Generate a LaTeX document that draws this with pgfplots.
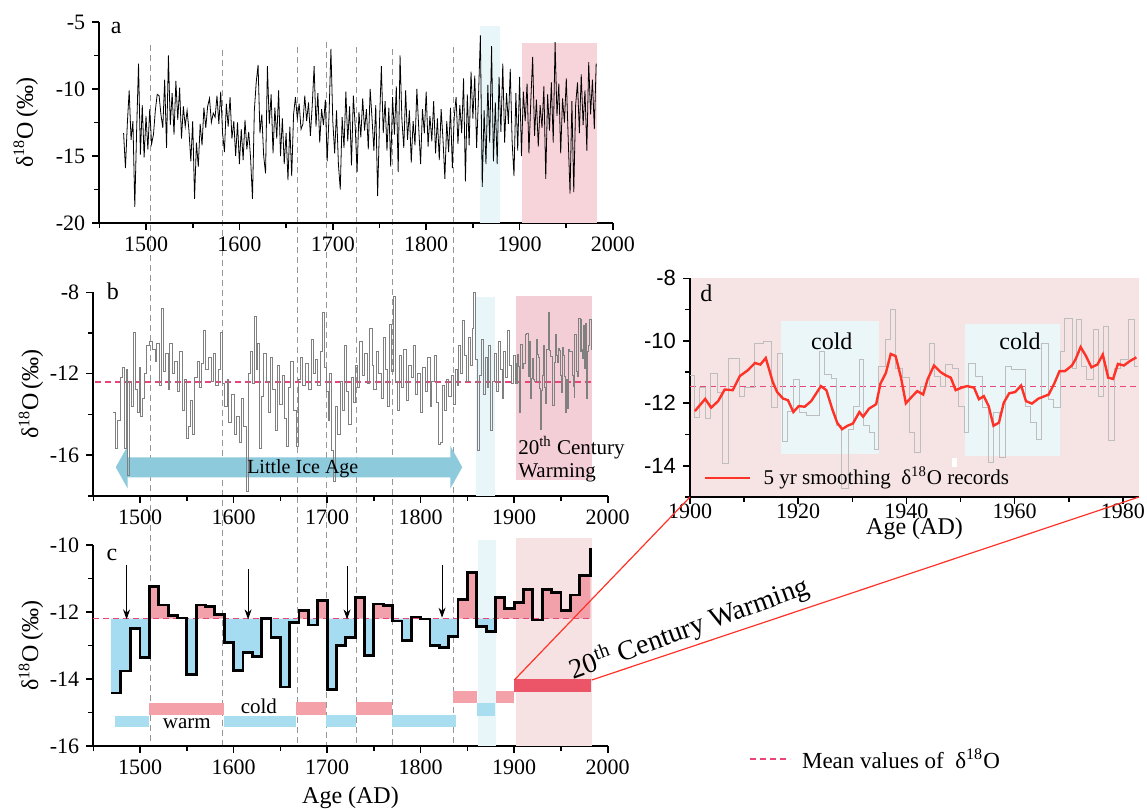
\documentclass[border=0pt]{standalone}
\usepackage{pgfplots}
\pgfplotsset{compat=1.18}
\usepackage{pgfplotstable}
\usepackage{fontspec}
\setmainfont{Liberation Serif}
\newfontfamily\arialf{Liberation Sans}
\usetikzlibrary{arrows.meta}

\definecolor{cfillred}{RGB}{242,160,170}
\definecolor{cfillblue}{RGB}{166,220,242}
\definecolor{barred}{RGB}{244,161,170}
\definecolor{barblue}{RGB}{169,221,240}
\definecolor{bardark}{RGB}{236,84,104}
\definecolor{bandcyan}{RGB}{232,246,249}
\definecolor{bandpinkA}{RGB}{247,211,218}
\definecolor{bandpinkB}{RGB}{244,206,215}
\definecolor{bandpinkC}{RGB}{246,226,226}
\definecolor{dbg}{RGB}{246,228,228}
\definecolor{dcyan}{RGB}{234,246,248}
\definecolor{meanpink}{RGB}{232,70,120}
\definecolor{liaarrow}{RGB}{140,202,220}
\definecolor{redline}{RGB}{255,50,40}
\definecolor{dashgray}{RGB}{150,150,150}

\pgfplotstableread{
yr v
1476 -13.3
1478 -15.9
1480 -12.6
1482 -10.1
1484 -13.8
1486 -12.4
1488 -18.8
1490 -13.0
1492 -8.1
1494 -14.9
1496 -11.2
1498 -15.1
1500 -12.0
1502 -14.5
1504 -11.5
1506 -14.1
1508 -13.4
1510 -11.6
1512 -10.4
1514 -10.5
1516 -11.9
1518 -12.9
1520 -9.3
1522 -14.4
1524 -7.5
1526 -12.7
1528 -10.3
1530 -13.4
1532 -9.4
1534 -12.3
1536 -9.9
1538 -13.7
1540 -11.3
1542 -12.8
1544 -11.6
1546 -13.1
1548 -15.4
1550 -12.4
1552 -18.2
1554 -14.0
1556 -15.8
1558 -12.6
1560 -14.2
1562 -11.4
1564 -12.9
1566 -11.3
1568 -10.7
1570 -12.5
1572 -11.8
1574 -12.1
1576 -10.5
1578 -12.6
1580 -10.2
1582 -13.3
1584 -14.7
1586 -11.1
1588 -12.8
1590 -10.6
1592 -13.7
1594 -12.4
1596 -15.0
1598 -12.5
1600 -15.6
1602 -13.0
1604 -15.3
1606 -12.3
1608 -14.5
1610 -13.2
1612 -15.2
1614 -18.2
1616 -11.6
1618 -9.5
1620 -8.2
1622 -13.3
1624 -11.9
1626 -15.0
1628 -16.3
1630 -8.3
1632 -12.6
1634 -10.4
1636 -14.8
1638 -11.4
1640 -13.7
1642 -10.1
1644 -15.0
1646 -12.2
1648 -15.6
1650 -13.3
1652 -16.8
1654 -12.8
1656 -16.5
1658 -11.9
1660 -10.6
1662 -12.2
1664 -11.1
1666 -13.0
1668 -12.6
1670 -10.5
1672 -12.4
1674 -11.0
1676 -13.5
1678 -11.2
1680 -8.3
1682 -12.8
1684 -10.3
1686 -14.0
1688 -11.5
1690 -12.7
1692 -10.8
1694 -15.4
1696 -11.9
1698 -7.0
1700 -12.4
1702 -14.8
1704 -11.6
1706 -15.6
1708 -17.5
1710 -12.1
1712 -14.4
1714 -10.2
1716 -13.9
1718 -11.3
1720 -15.7
1722 -10.5
1724 -12.8
1726 -16.2
1728 -11.7
1730 -13.6
1732 -10.7
1734 -13.1
1736 -11.5
1738 -14.5
1740 -10.0
1742 -12.2
1744 -14.6
1746 -11.2
1748 -18.0
1750 -12.5
1752 -8.3
1754 -13.3
1756 -10.9
1758 -14.6
1760 -11.4
1762 -15.8
1764 -10.6
1766 -13.4
1768 -9.8
1770 -16.2
1772 -7.5
1774 -12.3
1776 -14.4
1778 -10.1
1780 -13.8
1782 -11.6
1784 -15.5
1786 -12.4
1788 -14.2
1790 -10.0
1792 -12.9
1794 -15.6
1796 -11.5
1798 -13.3
1800 -10.2
1802 -14.3
1804 -12.0
1806 -13.9
1808 -10.9
1810 -14.8
1812 -12.2
1814 -15.3
1816 -11.5
1818 -13.8
1820 -16.7
1822 -12.4
1824 -14.7
1826 -11.4
1828 -15.9
1830 -12.1
1832 -10.6
1834 -14.1
1836 -11.2
1838 -13.3
1840 -9.2
1842 -16.9
1844 -10.4
1846 -14.2
1848 -8.7
1850 -12.2
1852 -9.0
1854 -14.4
1856 -10.5
1858 -6.0
1860 -17.3
1862 -11.6
1864 -15.6
1866 -9.7
1868 -14.0
1870 -6.8
1872 -15.4
1874 -11.0
1876 -15.6
1878 -9.1
1880 -13.2
1882 -8.1
1884 -14.0
1886 -10.3
1888 -12.6
1890 -8.5
1892 -13.9
1894 -16.5
1896 -10.3
1898 -14.6
1900 -9.1
1902 -15.0
1904 -10.2
1906 -12.4
1908 -9.6
1910 -14.8
1912 -10.9
1914 -7.6
1916 -13.5
1918 -10.8
1920 -14.3
1922 -11.2
1924 -12.9
1926 -9.8
1928 -16.7
1930 -10.4
1932 -13.1
1934 -9.5
1936 -14.0
1938 -6.5
1940 -12.0
1942 -9.6
1944 -14.8
1946 -10.7
1948 -12.5
1950 -9.2
1952 -13.6
1954 -17.8
1956 -10.9
1958 -17.7
1960 -11.2
1962 -9.5
1964 -13.3
1966 -8.9
1968 -12.7
1970 -10.1
1972 -14.6
1974 -8.0
1976 -11.9
1978 -9.3
1980 -13.0
1982 -8.1
}\atab

\pgfplotstableread{
yr v
1471 -13.9
1474 -15.7
1476 -14.3
1479 -12.2
1481 -11.7
1483 -15.7
1485 -11.8
1487 -17.0
1489 -12.4
1491 -13.6
1493 -10.0
1495 -12.8
1497 -13.9
1499 -11.7
1501 -14.1
1503 -13.2
1505 -12.0
1507 -10.6
1510 -10.4
1513 -10.8
1516 -11.4
1518 -10.5
1521 -12.6
1523 -8.8
1525 -11.9
1527 -11.0
1530 -12.8
1532 -10.5
1535 -12.0
1537 -11.4
1540 -12.9
1542 -10.9
1545 -13.8
1547 -12.3
1550 -15.2
1552 -14.6
1554 -13.3
1556 -15.0
1558 -12.2
1561 -11.4
1564 -12.7
1566 -11.5
1568 -9.9
1570 -11.8
1573 -11.2
1576 -12.4
1578 -11.0
1581 -12.6
1584 -11.8
1586 -10.0
1588 -12.5
1590 -13.6
1593 -12.3
1595 -14.4
1598 -13.0
1601 -15.0
1603 -14.1
1606 -15.4
1608 -13.2
1611 -14.6
1614 -17.8
1616 -12.0
1618 -10.9
1620 -12.5
1622 -9.2
1624 -11.8
1626 -10.5
1628 -15.7
1630 -13.1
1632 -11.0
1635 -12.4
1637 -13.9
1639 -11.2
1642 -12.8
1645 -14.8
1647 -11.6
1649 -13.5
1652 -12.1
1654 -14.2
1657 -15.6
1659 -12.7
1661 -11.4
1664 -13.8
1667 -15.6
1669 -12.3
1672 -11.2
1674 -12.6
1677 -11.5
1680 -12.8
1683 -10.3
1685 -12.0
1688 -11.3
1690 -12.6
1693 -10.9
1695 -9.0
1697 -11.7
1699 -12.9
1701 -14.3
1703 -12.0
1705 -15.8
1707 -17.3
1709 -13.6
1711 -15.0
1714 -12.4
1716 -13.8
1719 -10.6
1721 -12.9
1723 -14.5
1726 -12.2
1728 -13.4
1730 -11.6
1733 -12.7
1735 -10.4
1738 -12.1
1740 -11.0
1743 -12.5
1745 -9.8
1748 -11.6
1750 -12.8
1753 -10.9
1755 -12.0
1758 -13.2
1760 -10.2
1762 -11.8
1765 -13.6
1767 -9.6
1769 -11.9
1771 -8.2
1773 -12.4
1775 -13.8
1777 -11.1
1780 -12.7
1782 -10.8
1785 -13.3
1787 -11.6
1790 -12.2
1792 -10.6
1795 -13.0
1797 -12.0
1800 -13.9
1802 -11.7
1805 -12.9
1807 -11.2
1810 -13.6
1812 -12.4
1815 -11.1
1817 -13.4
1819 -15.5
1821 -15.4
1823 -12.6
1825 -13.8
1828 -12.3
1830 -13.1
1833 -12.1
1835 -13.5
1837 -11.8
1839 -12.6
1841 -10.6
1843 -12.0
1845 -9.4
1847 -11.1
1849 -12.4
1851 -10.2
1853 -11.6
1855 -9.8
1857 -8.0
1859 -11.3
1861 -15.8
1863 -12.1
1865 -10.3
1867 -13.0
1869 -11.2
1871 -12.7
1873 -10.6
1875 -14.8
1877 -12.4
1879 -11.0
1881 -12.9
1883 -10.4
1885 -11.8
1887 -13.2
1889 -10.9
1891 -12.2
1893 -9.9
1895 -11.6
1897 -12.5
1899 -11.1
1900.9 -12.46
1901.8 -11.50
1902.9 -12.49
1903.7 -11.06
1905.0 -11.66
1906.0 -13.91
1907.1 -10.55
1909.1 -11.77
1910.1 -11.50
1912.0 -10.07
1913.6 -10.02
1915.0 -12.14
1916.1 -10.41
1917.1 -13.23
1918.1 -12.25
1919.1 -11.24
1920.2 -12.28
1921.5 -12.38
1923.9 -10.34
1924.8 -11.08
1926.1 -11.22
1927.1 -12.72
1928.0 -14.74
1929.3 -12.83
1930.2 -12.09
1931.3 -10.60
1932.0 -12.70
1933.1 -12.94
1934.0 -13.47
1934.8 -10.81
1936.2 -9.96
1937.1 -9.01
1938.0 -10.87
1939.3 -11.18
1940.5 -12.94
1941.4 -13.57
1942.6 -11.45
1944.2 -10.07
1945.1 -11.13
1946.3 -11.45
1947.2 -10.76
1948.5 -10.87
1949.7 -12.09
1950.8 -12.94
1951.5 -10.71
1952.8 -11.13
1954.0 -12.14
1955.1 -13.89
1956.1 -12.30
1957.2 -13.73
1958.3 -10.81
1959.4 -10.92
1960.7 -10.92
1962.0 -12.09
1962.9 -12.62
1964.1 -13.15
1965.0 -10.07
1966.3 -11.87
1967.2 -12.14
1968.4 -10.34
1969.3 -9.27
1970.6 -10.90
1971.5 -9.33
1972.4 -10.81
1973.3 -11.24
1974.5 -9.65
1975.5 -11.77
1976.4 -9.54
1977.4 -13.20
1978.4 -10.90
1979.6 -10.60
1981.0 -9.33
1982.2 -10.81
1982.8 -10.81
}\btab

\pgfplotstableread{
yr v
1468.7 -14.42
1479.3 -13.76
1490 -12.49
1500 -13.35
1510 -11.25
1520 -11.79
1530 -12.10
1540 -12.18
1550 -13.87
1560 -11.79
1570 -11.83
1580 -12.08
1590 -12.90
1600 -13.74
1610 -13.20
1620 -13.32
1630 -12.19
1640 -12.76
1650 -14.24
1660 -12.32
1670 -11.95
1680 -12.39
1690 -11.66
1700 -14.32
1710 -13.00
1720 -12.76
1730 -11.56
1740 -13.29
1750 -11.76
1760 -11.80
1770 -12.27
1780 -12.86
1790 -12.15
1800 -12.21
1810 -13.00
1820 -13.05
1830 -12.73
1840 -11.63
1850 -10.81
1860 -12.44
1870 -12.59
1880 -11.56
1890 -11.90
1900 -11.71
1910 -11.32
1920 -12.24
1930 -11.32
1940 -11.41
1950 -11.95
1960 -11.49
1970 -10.91
1981.5 -10.08
}\ctab

\pgfplotstableread{
yr v
1900.9 -12.25
1902.8 -11.86
1903.9 -12.14
1905.2 -11.93
1906.4 -11.56
1907.9 -11.58
1909.2 -11.13
1910.7 -10.94
1912.0 -10.71
1913.0 -10.76
1914.0 -10.55
1915.3 -11.32
1916.1 -11.64
1917.2 -11.85
1918.1 -11.90
1919.1 -12.28
1920.1 -12.09
1921.2 -12.11
1922.4 -11.93
1924.2 -11.45
1925.2 -11.58
1926.3 -12.19
1927.2 -12.62
1928.1 -12.83
1929.1 -12.72
1930.1 -12.65
1931.3 -12.28
1932.0 -12.43
1933.1 -12.17
1934.4 -12.03
1935.2 -11.37
1936.2 -11.03
1937.1 -10.42
1938.0 -10.49
1939.0 -11.18
1939.9 -12.00
1941.0 -11.79
1942.0 -11.61
1943.1 -11.72
1943.9 -11.24
1945.1 -10.79
1946.3 -11.00
1947.2 -11.10
1948.2 -11.18
1949.1 -11.58
1950.2 -11.50
1951.2 -11.45
1952.5 -11.50
1953.4 -11.87
1954.3 -11.77
1955.2 -12.09
1956.1 -12.72
1957.1 -12.62
1958.0 -11.98
1959.0 -11.68
1960.1 -11.64
1961.2 -11.43
1962.1 -11.93
1963.2 -12.01
1964.4 -11.85
1965.3 -11.79
1966.3 -11.72
1967.4 -11.34
1968.3 -10.97
1969.3 -10.97
1970.6 -10.79
1971.3 -10.58
1972.2 -10.20
1973.2 -10.49
1974.2 -10.85
1975.3 -10.76
1976.3 -10.44
1977.3 -11.18
1978.2 -11.22
1979.1 -10.74
1980.2 -10.79
1981.3 -10.65
1982.5 -10.53
}\dtab

\newcommand{\prect}[5]{\addplot[fill=#5,draw=none,forget plot] coordinates {(#1,#2) (#3,#2) (#3,#4) (#1,#4)};}

\pgfplotsset{
  oax/.style={
    scale only axis,
    anchor=south west,
    axis x line*=bottom, axis y line*=left,
    axis line style={line width=1pt,-},
    tick align=outside,
    major tick length=3.5pt, minor tick length=2.5pt,
    every tick/.style={black, line width=0.8pt},
    tick label style={font=\rmfamily\fontsize{11}{13}\selectfont},
    label style={font=\rmfamily\fontsize{12}{14}\selectfont},
    /pgf/number format/1000 sep={},
    /pgf/number format/assume math mode=true,
  },
}

\begin{document}
\begin{tikzpicture}
\useasboundingbox (0,0) rectangle (573.5pt,-404.5pt);

% dashed guide lines (pixel coordinates)
\begin{scope}[x=0.5pt,y=-0.5pt]
\foreach \xx/\yy in {150.7/45,222.7/50,297.7/47,326/42,356.7/47,392.3/49,453.7/47}
  \draw[dashgray, line width=0.5pt, dash pattern=on 3pt off 2pt] (\xx,\yy) -- (\xx,746);
\end{scope}

% ---------- panel a
\begin{axis}[oax, clip=false, at={(49.65pt,-111.5pt)}, width=256.85pt, height=100.5pt,
  xmin=1450, xmax=2000, ymin=-20, ymax=-5,
  xtick={1500,1600,...,2000}, minor xtick={1450,1550,...,1950},
  ytick={-20,-15,-10,-5}, minor ytick={-17.5,-12.5,-7.5},
  ylabel={δ\textsuperscript{18}O\,(‰)},
  ylabel style={at={(axis description cs:-0.143,0.5)}, anchor=center}]
\prect{1858}{-20}{1879.5}{-5.3}{bandcyan}
\prect{1903}{-20}{1982.5}{-6.55}{bandpinkA}
\addplot[black, line width=0.4pt] table[x=yr,y=v] {\atab};
\node[font=\fontsize{12}{14}\selectfont] at (axis cs:1468,-5.45) {a};
\end{axis}

% ---------- panel b
\begin{axis}[oax, clip=false, at={(46.65pt,-247.85pt)}, width=257.2pt, height=101.7pt,
  xmin=1450, xmax=2000, ymin=-18, ymax=-8,
  xtick={1500,1600,...,2000}, minor xtick={1450,1550,...,1950},
  ytick={-16,-12,-8}, minor ytick={-18,-14,-10},
  ylabel={δ\textsuperscript{18}O\,(‰)},
  ylabel style={at={(axis description cs:-0.121,0.5)}, anchor=center}]
\prect{1858.7}{-18}{1879}{-8.25}{bandcyan}
\prect{1902.3}{-17.23}{1982.7}{-8.18}{bandpinkB}
\addplot[fill=liaarrow, draw=none] coordinates {(1474,-16.6) (1486.8,-15.55) (1486.8,-16.11) (1831.7,-16.11) (1831.7,-15.55) (1844.5,-16.6) (1831.7,-17.65) (1831.7,-17.1) (1486.8,-17.1) (1486.8,-17.65)};
\addplot[meanpink, line width=0.6pt, dash pattern=on 3pt off 2pt] coordinates {(1452,-12.41) (1983,-12.41)};
\addplot[const plot, color={rgb,255:red,128;green,128;blue,128}, line width=0.5pt] table[x=yr,y=v] {\btab};
\node[font=\fontsize{10}{12}\selectfont] at (axis cs:1674,-16.65) {Little Ice Age};
\node[font=\fontsize{10.5}{11.7}\selectfont, anchor=west, align=left, inner sep=0pt] at (axis cs:1904,-16.2) {20\textsuperscript{th} Century\\Warming};
\node[font=\fontsize{12}{14}\selectfont] at (axis cs:1471,-7.94) {b};
\end{axis}

% ---------- panel c
\begin{axis}[oax, clip=false, at={(46.65pt,-373pt)}, width=257.2pt, height=100.5pt,
  xmin=1450, xmax=2000, ymin=-16, ymax=-10,
  xtick={1500,1600,...,2000}, minor xtick={1450,1550,...,1950},
  ytick={-16,-14,-12,-10}, minor ytick={-15,-13,-11},
  xlabel={Age (AD)},
  xlabel style={at={(axis description cs:0.5,-0.259)}, anchor=center},
  ylabel={δ\textsuperscript{18}O\,(‰)},
  ylabel style={at={(axis description cs:-0.121,0.5)}, anchor=center}]
\prect{1860.8}{-16}{1881}{-9.85}{bandcyan}
\prect{1902.4}{-16}{1983.6}{-9.78}{bandpinkC}
% period bars
\prect{1473}{-15.09}{1510}{-15.44}{barblue}
\prect{1510}{-14.73}{1590}{-15.07}{barred}
\prect{1590}{-15.09}{1667}{-15.44}{barblue}
\prect{1667}{-14.70}{1698.5}{-15.07}{barred}
\prect{1698.5}{-15.07}{1731}{-15.42}{barblue}
\prect{1731}{-14.70}{1769}{-15.07}{barred}
\prect{1769}{-15.07}{1837.7}{-15.44}{barblue}
\prect{1835}{-14.36}{1860}{-14.73}{barred}
\prect{1860}{-14.73}{1880}{-15.09}{barblue}
\prect{1881}{-14.36}{1900}{-14.73}{barred}
\prect{1900}{-14.00}{1982.5}{-14.39}{bardark}
% anomaly fills
\addplot[const plot, fill=cfillred, draw=none, forget plot] table[x=yr, y expr={max(\thisrow{v},-12.2)}] {\ctab} -- (axis cs:1981.5,-12.2) -- (axis cs:1468.7,-12.2) -- cycle;
\addplot[const plot, fill=cfillblue, draw=none, forget plot] table[x=yr, y expr={min(\thisrow{v},-12.2)}] {\ctab} -- (axis cs:1981.5,-12.2) -- (axis cs:1468.7,-12.2) -- cycle;
\addplot[meanpink, line width=0.6pt, dash pattern=on 3pt off 2pt] coordinates {(1450,-12.2) (1983,-12.2)};
\addplot[const plot, black, line width=1.4pt] table[x=yr,y=v] {\ctab};
\foreach \ax/\at/\ab in {1485.6/-10.59/-12.22, 1615.5/-10.73/-12.22, 1721.3/-10.63/-12.22, 1822.9/-10.61/-12.17}
  {\edef\tmp{\noexpand\draw[-{Stealth[length=5pt,width=3.5pt]}, line width=0.5pt] (axis cs:\ax,\at) -- (axis cs:\ax,\ab);}\tmp}
\node[font=\fontsize{10.5}{12}\selectfont] at (axis cs:1550,-15.32) {warm};
\node[font=\fontsize{10.5}{12}\selectfont] at (axis cs:1627,-14.83) {cold};
\node[font=\fontsize{12}{14}\selectfont] at (axis cs:1470,-10.3) {c};
\end{axis}

% ---------- panel d
\begin{axis}[oax, at={(345pt,-248.5pt)}, width=224.5pt, height=109.35pt,
  axis background/.style={fill=dbg},
  xmin=1900, xmax=1983, ymin=-15, ymax=-8,
  xtick={1900,1920,...,1980}, minor xtick={1910,1930,...,1970},
  ytick={-14,-12,-10,-8}, minor ytick={-15,-13,-11,-9},
  yticklabel style={font=\arialf\fontsize{11}{13}\selectfont},
  xticklabel style={yshift=3.5pt},
  xlabel={Age (AD)},
  xlabel style={at={(axis description cs:0.5,-0.145)}, anchor=center}]
\prect{1916.9}{-13.63}{1934.9}{-9.38}{dcyan}
\prect{1950.9}{-13.68}{1968.4}{-9.47}{dcyan}
\addplot[meanpink, line width=0.6pt, dash pattern=on 3pt off 2pt] coordinates {(1900,-11.47) (1983,-11.47)};
\addplot[const plot, color={rgb,255:red,190;green,190;blue,190}, line width=0.45pt] table[x=yr,y=v] {\btab};
\addplot[redline, line width=1.2pt] table[x=yr,y=v] {\dtab};
\prect{1948.4}{-13.75}{1949.3}{-14.04}{white}
\draw[redline, line width=1.2pt] (axis cs:1902.8,-14.4) -- (axis cs:1911.1,-14.4);
\node[anchor=west, font=\fontsize{10.5}{13}\selectfont] at (axis cs:1912.3,-14.4) {5 yr smoothing\ \ δ\textsuperscript{18}O records};
\node[font=\fontsize{12}{14}\selectfont] at (axis cs:1926.2,-10.0) {cold};
\node[font=\fontsize{12}{14}\selectfont] at (axis cs:1961,-10.0) {cold};
\node[font=\fontsize{12}{14}\selectfont] at (axis cs:1903,-8.48) {d};
\end{axis}

% ---------- connecting annotations (pixel coordinates)
\begin{scope}[x=0.5pt,y=-0.5pt]
\draw[redline, line width=0.6pt] (514.3,680) -- (690,497);
\draw[redline, line width=0.6pt] (591.7,680) -- (1139,497);
\node[rotate=20, font=\fontsize{14}{16}\selectfont] at (689,628) {20\textsuperscript{th} Century Warming};
\draw[meanpink, line width=0.6pt, dash pattern=on 3pt off 2pt] (750,759) -- (790,759);
\node[anchor=west, font=\fontsize{11.5}{13}\selectfont] at (795,759) {Mean values of\ \ δ\textsuperscript{18}O};
\end{scope}
\end{tikzpicture}
\end{document}
